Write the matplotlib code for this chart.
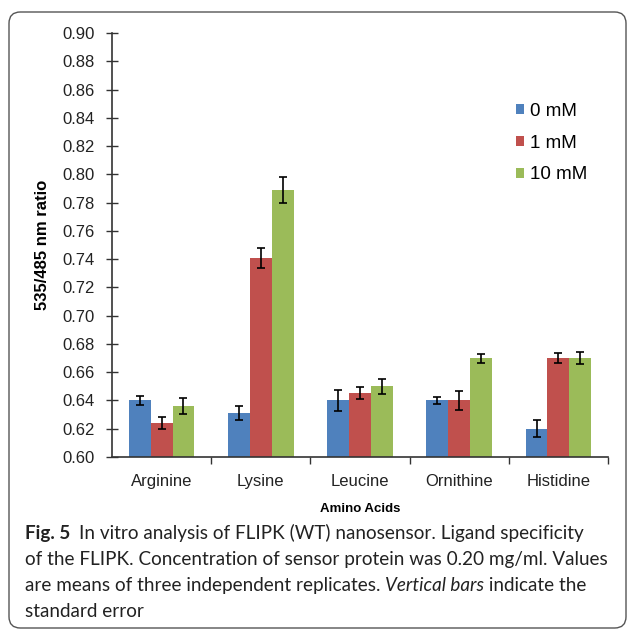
import matplotlib
matplotlib.use("Agg")
import matplotlib.pyplot as plt
from matplotlib import font_manager
from matplotlib.patches import FancyBboxPatch
import numpy as np

amino_acids = ["Arginine", "Lysine", "Leucine", "Ornithine", "Histidine"]
series_names = ["0 mM", "1 mM", "10 mM"]
values_0mm = [0.640, 0.631, 0.640, 0.640, 0.620]
values_1mm = [0.624, 0.741, 0.645, 0.640, 0.670]
values_10mm = [0.636, 0.789, 0.650, 0.670, 0.670]
err_0mm = [0.003, 0.005, 0.0077, 0.0023, 0.006]
err_1mm = [0.004, 0.007, 0.0043, 0.0066, 0.0036]
err_10mm = [0.0055, 0.009, 0.0055, 0.0032, 0.0045]
y_ticks = [0.60, 0.62, 0.64, 0.66, 0.68, 0.70, 0.72, 0.74, 0.76, 0.78,
           0.80, 0.82, 0.84, 0.86, 0.88, 0.90]

colors = ["#4F81BD", "#C0504D", "#9BBB59"]
caption_lines = [
    "In vitro analysis of FLIPK (WT) nanosensor. Ligand specificity",
    "of the FLIPK. Concentration of sensor protein was 0.20 mg/ml. Values",
    "are means of three independent replicates. ",
    "standard error",
]


def has_font(name):
    return any(f.name == name for f in font_manager.fontManager.ttflist)


def main():
    plt.rcParams["font.family"] = ["Liberation Sans", "DejaVu Sans"]
    fig = plt.figure(figsize=(6.29, 6.30), dpi=100)

    # rounded frame around chart + caption
    frame = FancyBboxPatch((9 / 629, 2 / 630), 617 / 629, 616 / 630,
                           boxstyle="round,pad=0,rounding_size=0.018",
                           transform=fig.transFigure, fill=False,
                           edgecolor="#555555", linewidth=1.0)
    fig.patches.append(frame)

    ax = fig.add_axes([112 / 629, 1 - 457 / 630, 496 / 629, 424 / 630])
    x = np.arange(len(amino_acids))
    width = 0.22
    all_vals = [values_0mm, values_1mm, values_10mm]
    all_errs = [err_0mm, err_1mm, err_10mm]
    for i in range(3):
        ax.bar(x + (i - 1) * width, all_vals[i], width, color=colors[i],
               label=series_names[i], yerr=all_errs[i],
               error_kw=dict(ecolor="black", elinewidth=1.2, capsize=3,
                             capthick=1.2))

    ax.set_ylim(0.60, 0.90)
    ax.set_xlim(-0.5, len(amino_acids) - 0.5)
    ax.set_yticks(y_ticks)
    ax.set_yticklabels([f"{t:.2f}" for t in y_ticks], fontsize=12,
                       color="#222222")
    ax.tick_params(axis="y", direction="inout", length=9, width=1,
                   color="#333333", pad=8)

    ax.set_xticks(x)
    ax.set_xticklabels(amino_acids, fontsize=12, color="#222222")
    ax.tick_params(axis="x", length=0, pad=12)
    ax.set_xticks(np.arange(0.5, len(amino_acids)), minor=True)
    ax.tick_params(axis="x", which="minor", direction="out", length=5,
                   width=1, color="#333333")

    for side in ["top", "right"]:
        ax.spines[side].set_visible(False)
    for side in ["left", "bottom"]:
        ax.spines[side].set_color("#333333")
        ax.spines[side].set_linewidth(1.2)

    if has_font("Liberation Sans Narrow"):
        ax.set_ylabel("535/485 nm ratio", fontsize=13.5, fontweight="bold",
                      family="Liberation Sans Narrow", labelpad=9)
    else:
        ax.set_ylabel("535/485 nm ratio", fontsize=12, fontweight="bold",
                      labelpad=9)
    ax.set_xlabel("Amino Acids", fontsize=9.5, fontweight="bold",
                  labelpad=10)

    ax.legend(loc="center left", bbox_to_anchor=(0.795, 0.74),
              frameon=False, fontsize=13.5, handlelength=0.45,
              handleheight=0.45, handletextpad=0.3, labelspacing=0.78,
              borderpad=0)

    # caption
    cap_font = ["Lato", "Open Sans", "DejaVu Sans"]
    cap_size = 13.6
    cap_color = "#222222"
    x0 = 25 / 629
    rows_y = [1 - 533 / 630, 1 - 559.5 / 630, 1 - 585.5 / 630,
              1 - 611.5 / 630]
    fig.canvas.draw()
    inv = fig.transFigure.inverted()

    def put(xpos, ypos, s, **kw):
        t = fig.text(xpos, ypos, s, fontsize=cap_size, family=cap_font,
                     color=cap_color, va="center", **kw)
        fig.canvas.draw()
        return t.get_window_extent().transformed(inv).x1

    end = put(x0, rows_y[0], "Fig. 5", fontweight="bold")
    put(end + 9 / 629, rows_y[0], caption_lines[0])
    put(x0, rows_y[1], caption_lines[1])
    end = put(x0, rows_y[2], caption_lines[2])
    end = put(end, rows_y[2], "Vertical bars", style="italic")
    put(end, rows_y[2], " indicate the")
    put(x0, rows_y[3], caption_lines[3])

    fig.savefig("out.png", dpi=100)


if __name__ == "__main__":
    main()
